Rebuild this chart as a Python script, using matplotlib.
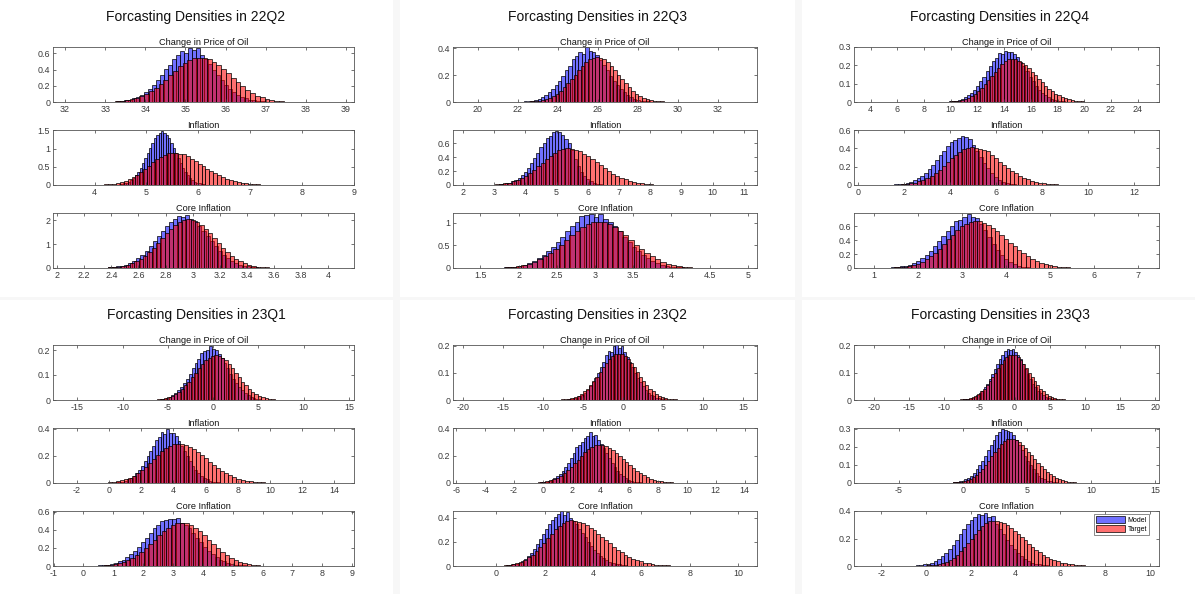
import numpy as np
import matplotlib.pyplot as plt
from matplotlib.patches import Patch, Rectangle

plt.rcParams['font.family'] = ['Liberation Sans', 'DejaVu Sans']

quarters = ['22Q2', '22Q3', '22Q4', '23Q1', '23Q2', '23Q3']
variables = ['Change in Price of Oil', 'Inflation', 'Core Inflation']

# histograms as (left edge of first bin, bin width, pdf heights)
oil_22q2_model = (33.27, 0.1, [0.007, 0.012, 0.019, 0.029, 0.044, 0.063, 0.09, 0.12, 0.166, 0.212, 0.275, 0.33, 0.405, 0.46, 0.535, 0.575, 0.63, 0.61, 0.665, 0.64, 0.67, 0.575, 0.53, 0.47, 0.4, 0.335, 0.27, 0.215, 0.165, 0.123, 0.089, 0.063, 0.044, 0.029, 0.019, 0.012, 0.007])
oil_22q2_target = (33.13, 0.12, [0.006, 0.01, 0.016, 0.024, 0.036, 0.053, 0.074, 0.102, 0.137, 0.179, 0.226, 0.278, 0.334, 0.389, 0.441, 0.486, 0.52, 0.542, 0.55, 0.548, 0.53, 0.5, 0.46, 0.41, 0.355, 0.3, 0.245, 0.195, 0.15, 0.112, 0.08, 0.056, 0.038, 0.025, 0.016, 0.01, 0.006])
infl_22q2_model = (4.468, 0.045, [0.016, 0.026, 0.042, 0.064, 0.096, 0.139, 0.196, 0.27, 0.361, 0.471, 0.596, 0.734, 0.88, 1.025, 1.15, 1.29, 1.36, 1.42, 1.48, 1.44, 1.37, 1.28, 1.16, 1.025, 0.88, 0.734, 0.596, 0.471, 0.361, 0.27, 0.196, 0.139, 0.096, 0.064, 0.042, 0.026, 0.016])
infl_22q2_target = (4.113, 0.075, [0.01, 0.016, 0.026, 0.039, 0.058, 0.084, 0.119, 0.164, 0.219, 0.286, 0.362, 0.445, 0.534, 0.622, 0.705, 0.777, 0.832, 0.868, 0.88, 0.873, 0.852, 0.86, 0.79, 0.716, 0.655, 0.588, 0.52, 0.452, 0.387, 0.326, 0.269, 0.219, 0.175, 0.138, 0.107, 0.082, 0.062, 0.045, 0.033, 0.024, 0.017, 0.011])
core_22q2_model = (2.375, 0.03, [0.024, 0.04, 0.064, 0.097, 0.145, 0.211, 0.297, 0.409, 0.548, 0.715, 0.904, 1.113, 1.335, 1.555, 1.762, 1.943, 2.06, 2.2, 2.15, 2.24, 2.05, 1.99, 1.762, 1.555, 1.335, 1.113, 0.904, 0.715, 0.548, 0.409, 0.297, 0.211, 0.145, 0.097, 0.064, 0.04, 0.024])
core_22q2_target = (2.378, 0.032, [0.023, 0.037, 0.059, 0.09, 0.135, 0.197, 0.277, 0.381, 0.51, 0.666, 0.843, 1.037, 1.244, 1.449, 1.642, 1.81, 1.939, 2.021, 2.05, 2.021, 1.939, 1.81, 1.642, 1.449, 1.244, 1.037, 0.843, 0.666, 0.51, 0.381, 0.277, 0.197, 0.135, 0.09, 0.059, 0.037, 0.023])

oil_22q3_model = (22.305, 0.17, [0.004, 0.007, 0.011, 0.017, 0.026, 0.037, 0.053, 0.073, 0.097, 0.127, 0.16, 0.197, 0.237, 0.27, 0.318, 0.34, 0.375, 0.36, 0.41, 0.38, 0.37, 0.35, 0.312, 0.276, 0.237, 0.197, 0.16, 0.127, 0.097, 0.073, 0.053, 0.037, 0.026, 0.017, 0.011, 0.007, 0.004])
oil_22q3_target = (22.62, 0.18, [0.004, 0.006, 0.01, 0.015, 0.022, 0.032, 0.045, 0.062, 0.083, 0.109, 0.138, 0.17, 0.203, 0.237, 0.268, 0.296, 0.317, 0.33, 0.335, 0.33, 0.32, 0.3, 0.268, 0.237, 0.203, 0.17, 0.138, 0.109, 0.083, 0.062, 0.045, 0.032, 0.022, 0.015, 0.01, 0.006, 0.004])
infl_22q3_model = (3.15, 0.1, [0.008, 0.014, 0.022, 0.034, 0.051, 0.074, 0.104, 0.143, 0.192, 0.25, 0.316, 0.39, 0.467, 0.544, 0.6, 0.68, 0.71, 0.76, 0.78, 0.77, 0.72, 0.66, 0.6, 0.5, 0.38, 0.27, 0.19, 0.13, 0.088, 0.055, 0.034, 0.02, 0.011, 0.006])
infl_22q3_target = (2.89, 0.133, [0.006, 0.01, 0.015, 0.023, 0.035, 0.051, 0.072, 0.099, 0.132, 0.172, 0.218, 0.268, 0.322, 0.375, 0.425, 0.468, 0.501, 0.523, 0.53, 0.525, 0.51, 0.486, 0.454, 0.417, 0.375, 0.33, 0.286, 0.243, 0.202, 0.165, 0.132, 0.104, 0.08, 0.06, 0.045, 0.032, 0.023, 0.016, 0.011, 0.007, 0.005])
core_22q3_model = (1.803, 0.062, [0.013, 0.021, 0.033, 0.051, 0.076, 0.11, 0.155, 0.214, 0.286, 0.374, 0.473, 0.582, 0.698, 0.813, 0.921, 1.015, 1.16, 1.17, 1.19, 1.13, 1.19, 1.09, 1.015, 0.921, 0.813, 0.698, 0.582, 0.473, 0.374, 0.286, 0.214, 0.155, 0.11, 0.076, 0.051, 0.033, 0.021, 0.013])
core_22q3_target = (1.755, 0.07, [0.011, 0.019, 0.03, 0.045, 0.068, 0.099, 0.139, 0.192, 0.256, 0.335, 0.423, 0.521, 0.625, 0.728, 0.825, 0.909, 0.974, 1.016, 1.03, 1.016, 0.974, 0.909, 0.825, 0.728, 0.625, 0.521, 0.423, 0.335, 0.256, 0.192, 0.139, 0.099, 0.068, 0.045, 0.03, 0.019, 0.011])

oil_22q4_model = (9.845, 0.23, [0.003, 0.005, 0.008, 0.012, 0.018, 0.026, 0.037, 0.051, 0.068, 0.089, 0.113, 0.139, 0.167, 0.194, 0.225, 0.24, 0.265, 0.262, 0.28, 0.27, 0.275, 0.26, 0.243, 0.22, 0.194, 0.167, 0.139, 0.113, 0.089, 0.068, 0.051, 0.037, 0.026, 0.018, 0.012, 0.008, 0.005, 0.003])
oil_22q4_target = (9.975, 0.25, [0.003, 0.004, 0.007, 0.01, 0.016, 0.023, 0.032, 0.044, 0.059, 0.076, 0.097, 0.119, 0.143, 0.166, 0.188, 0.208, 0.222, 0.232, 0.235, 0.233, 0.226, 0.215, 0.201, 0.185, 0.166, 0.146, 0.127, 0.108, 0.09, 0.073, 0.059, 0.046, 0.036, 0.027, 0.02, 0.014, 0.01, 0.007, 0.005, 0.003, 0.002])
infl_22q4_model = (1.59, 0.16, [0.006, 0.01, 0.015, 0.023, 0.035, 0.051, 0.072, 0.099, 0.132, 0.172, 0.218, 0.268, 0.322, 0.375, 0.425, 0.468, 0.49, 0.51, 0.535, 0.52, 0.5, 0.436, 0.375, 0.308, 0.243, 0.183, 0.132, 0.091, 0.06, 0.038, 0.023, 0.014, 0.007, 0.004])
infl_22q4_target = (1.713, 0.175, [0.005, 0.007, 0.012, 0.018, 0.027, 0.039, 0.055, 0.076, 0.102, 0.133, 0.169, 0.207, 0.249, 0.29, 0.328, 0.362, 0.388, 0.404, 0.41, 0.406, 0.394, 0.38, 0.37, 0.322, 0.29, 0.255, 0.221, 0.188, 0.156, 0.128, 0.102, 0.08, 0.062, 0.047, 0.034, 0.025, 0.018, 0.013, 0.009, 0.006, 0.004])
core_22q4_model = (1.393, 0.095, [0.008, 0.014, 0.022, 0.033, 0.05, 0.073, 0.103, 0.141, 0.189, 0.247, 0.312, 0.385, 0.461, 0.537, 0.6, 0.68, 0.7, 0.74, 0.785, 0.73, 0.72, 0.64, 0.55, 0.45, 0.348, 0.262, 0.189, 0.131, 0.087, 0.055, 0.033, 0.02, 0.011, 0.006])
core_22q4_target = (1.45, 0.1, [0.008, 0.012, 0.02, 0.03, 0.045, 0.065, 0.092, 0.126, 0.169, 0.221, 0.279, 0.344, 0.413, 0.481, 0.545, 0.6, 0.643, 0.67, 0.68, 0.673, 0.654, 0.624, 0.583, 0.534, 0.481, 0.424, 0.367, 0.311, 0.259, 0.211, 0.169, 0.133, 0.103, 0.078, 0.057, 0.041, 0.03, 0.021, 0.014, 0.01, 0.006])

oil_23q1_model = (-6.22, 0.32, [0.002, 0.004, 0.006, 0.009, 0.014, 0.02, 0.028, 0.039, 0.052, 0.068, 0.086, 0.106, 0.127, 0.15, 0.165, 0.19, 0.195, 0.2, 0.215, 0.205, 0.2, 0.185, 0.168, 0.148, 0.127, 0.106, 0.086, 0.068, 0.052, 0.039, 0.028, 0.02, 0.014, 0.009, 0.006, 0.004, 0.002])
oil_23q1_target = (-6.545, 0.37, [0.002, 0.003, 0.005, 0.008, 0.012, 0.017, 0.024, 0.034, 0.045, 0.059, 0.074, 0.091, 0.109, 0.127, 0.144, 0.159, 0.17, 0.177, 0.18, 0.177, 0.17, 0.159, 0.144, 0.127, 0.109, 0.091, 0.074, 0.059, 0.045, 0.034, 0.024, 0.017, 0.012, 0.008, 0.005, 0.003, 0.002])
infl_23q1_model = (0.413, 0.175, [0.004, 0.007, 0.011, 0.017, 0.026, 0.037, 0.053, 0.073, 0.097, 0.127, 0.16, 0.197, 0.237, 0.276, 0.315, 0.34, 0.375, 0.36, 0.4, 0.37, 0.365, 0.344, 0.312, 0.276, 0.237, 0.197, 0.16, 0.127, 0.097, 0.073, 0.053, 0.037, 0.026, 0.017, 0.011, 0.007, 0.004])
infl_23q1_target = (-0.325, 0.25, [0.003, 0.005, 0.008, 0.013, 0.019, 0.028, 0.039, 0.054, 0.072, 0.094, 0.119, 0.147, 0.176, 0.205, 0.232, 0.256, 0.274, 0.286, 0.29, 0.287, 0.279, 0.266, 0.249, 0.228, 0.205, 0.181, 0.156, 0.133, 0.11, 0.09, 0.072, 0.057, 0.044, 0.033, 0.024, 0.018, 0.013, 0.009, 0.006, 0.004, 0.003])
core_23q1_model = (0.495, 0.13, [0.006, 0.009, 0.015, 0.023, 0.034, 0.05, 0.07, 0.097, 0.129, 0.169, 0.214, 0.263, 0.316, 0.368, 0.417, 0.459, 0.5, 0.515, 0.52, 0.525, 0.535, 0.48, 0.459, 0.417, 0.368, 0.316, 0.263, 0.214, 0.169, 0.129, 0.097, 0.07, 0.05, 0.034, 0.023, 0.015, 0.009, 0.006])
core_23q1_target = (0.525, 0.15, [0.005, 0.009, 0.014, 0.021, 0.032, 0.046, 0.065, 0.089, 0.12, 0.156, 0.197, 0.243, 0.291, 0.339, 0.384, 0.424, 0.454, 0.473, 0.48, 0.473, 0.454, 0.424, 0.384, 0.339, 0.291, 0.243, 0.197, 0.156, 0.12, 0.089, 0.065, 0.046, 0.032, 0.021, 0.014, 0.009, 0.005])

oil_23q2_model = (-6.905, 0.33, [0.002, 0.004, 0.006, 0.009, 0.013, 0.019, 0.027, 0.037, 0.05, 0.065, 0.082, 0.101, 0.121, 0.141, 0.165, 0.18, 0.178, 0.2, 0.205, 0.19, 0.2, 0.177, 0.16, 0.141, 0.121, 0.101, 0.082, 0.065, 0.05, 0.037, 0.027, 0.019, 0.013, 0.009, 0.006, 0.004, 0.002])
oil_23q2_target = (-7.765, 0.39, [0.002, 0.003, 0.005, 0.007, 0.011, 0.016, 0.023, 0.032, 0.042, 0.055, 0.07, 0.086, 0.103, 0.12, 0.136, 0.15, 0.161, 0.168, 0.17, 0.168, 0.161, 0.15, 0.136, 0.12, 0.103, 0.086, 0.07, 0.055, 0.042, 0.032, 0.023, 0.016, 0.011, 0.007, 0.005, 0.003, 0.002])
infl_23q2_model = (-0.215, 0.19, [0.004, 0.006, 0.01, 0.016, 0.023, 0.034, 0.048, 0.066, 0.088, 0.115, 0.146, 0.18, 0.215, 0.26, 0.28, 0.3, 0.33, 0.345, 0.37, 0.34, 0.35, 0.313, 0.284, 0.251, 0.215, 0.18, 0.146, 0.115, 0.088, 0.066, 0.048, 0.034, 0.023, 0.016, 0.01, 0.006, 0.004])
infl_23q2_target = (-0.54, 0.24, [0.003, 0.005, 0.008, 0.012, 0.019, 0.027, 0.038, 0.052, 0.07, 0.091, 0.115, 0.142, 0.17, 0.198, 0.224, 0.247, 0.265, 0.276, 0.28, 0.277, 0.269, 0.257, 0.24, 0.22, 0.198, 0.174, 0.151, 0.128, 0.107, 0.087, 0.07, 0.055, 0.042, 0.032, 0.024, 0.017, 0.012, 0.009, 0.006, 0.004, 0.003])
core_23q2_model = (0.388, 0.125, [0.005, 0.008, 0.013, 0.019, 0.029, 0.042, 0.059, 0.082, 0.11, 0.143, 0.181, 0.223, 0.267, 0.311, 0.352, 0.38, 0.41, 0.43, 0.455, 0.42, 0.445, 0.4, 0.377, 0.346, 0.311, 0.274, 0.237, 0.202, 0.168, 0.137, 0.11, 0.086, 0.066, 0.05, 0.037, 0.027, 0.019, 0.014, 0.009, 0.006, 0.004])
core_23q2_target = (0.14, 0.16, [0.004, 0.007, 0.011, 0.017, 0.025, 0.037, 0.051, 0.071, 0.095, 0.124, 0.156, 0.192, 0.231, 0.269, 0.304, 0.336, 0.359, 0.375, 0.38, 0.377, 0.369, 0.356, 0.339, 0.318, 0.295, 0.269, 0.241, 0.214, 0.187, 0.161, 0.137, 0.115, 0.095, 0.077, 0.062, 0.049, 0.038, 0.029, 0.022, 0.017, 0.012, 0.009, 0.006, 0.005])

oil_23q3_model = (-7.26, 0.36, [0.002, 0.003, 0.005, 0.008, 0.012, 0.018, 0.025, 0.034, 0.046, 0.06, 0.076, 0.094, 0.112, 0.131, 0.148, 0.165, 0.178, 0.184, 0.183, 0.185, 0.175, 0.163, 0.148, 0.131, 0.112, 0.094, 0.076, 0.06, 0.046, 0.034, 0.025, 0.018, 0.012, 0.008, 0.005, 0.003, 0.002])
oil_23q3_target = (-7.7, 0.4, [0.002, 0.003, 0.005, 0.007, 0.011, 0.016, 0.022, 0.031, 0.041, 0.054, 0.068, 0.084, 0.1, 0.117, 0.132, 0.146, 0.156, 0.163, 0.165, 0.163, 0.156, 0.146, 0.132, 0.117, 0.1, 0.084, 0.068, 0.054, 0.041, 0.031, 0.022, 0.016, 0.011, 0.007, 0.005, 0.003, 0.002])
infl_23q3_model = (-0.77, 0.22, [0.003, 0.005, 0.009, 0.013, 0.02, 0.029, 0.04, 0.056, 0.075, 0.098, 0.123, 0.152, 0.182, 0.212, 0.24, 0.265, 0.28, 0.3, 0.295, 0.285, 0.28, 0.265, 0.24, 0.212, 0.182, 0.152, 0.123, 0.098, 0.075, 0.056, 0.04, 0.029, 0.02, 0.013, 0.009, 0.005, 0.003])
infl_23q3_target = (-0.74, 0.24, [0.003, 0.004, 0.007, 0.011, 0.016, 0.024, 0.033, 0.046, 0.061, 0.08, 0.101, 0.124, 0.149, 0.173, 0.196, 0.216, 0.232, 0.242, 0.245, 0.243, 0.236, 0.225, 0.21, 0.193, 0.173, 0.153, 0.132, 0.112, 0.093, 0.076, 0.061, 0.048, 0.037, 0.028, 0.021, 0.015, 0.011, 0.008, 0.005, 0.003, 0.002])
core_23q3_model = (-0.46, 0.16, [0.004, 0.007, 0.011, 0.017, 0.025, 0.037, 0.051, 0.071, 0.095, 0.124, 0.156, 0.192, 0.231, 0.269, 0.304, 0.336, 0.36, 0.38, 0.37, 0.385, 0.36, 0.365, 0.304, 0.269, 0.231, 0.192, 0.156, 0.124, 0.095, 0.071, 0.051, 0.037, 0.025, 0.017, 0.011, 0.007, 0.004])
core_23q3_target = (0.04, 0.16, [0.004, 0.006, 0.01, 0.015, 0.022, 0.032, 0.045, 0.061, 0.082, 0.107, 0.136, 0.167, 0.2, 0.233, 0.264, 0.291, 0.312, 0.325, 0.33, 0.328, 0.321, 0.31, 0.295, 0.277, 0.256, 0.233, 0.21, 0.186, 0.162, 0.14, 0.119, 0.1, 0.082, 0.067, 0.054, 0.043, 0.033, 0.025, 0.019, 0.015, 0.011, 0.008, 0.006, 0.004])

panels = {
    '22Q2': [(oil_22q2_model, oil_22q2_target), (infl_22q2_model, infl_22q2_target), (core_22q2_model, core_22q2_target)],
    '22Q3': [(oil_22q3_model, oil_22q3_target), (infl_22q3_model, infl_22q3_target), (core_22q3_model, core_22q3_target)],
    '22Q4': [(oil_22q4_model, oil_22q4_target), (infl_22q4_model, infl_22q4_target), (core_22q4_model, core_22q4_target)],
    '23Q1': [(oil_23q1_model, oil_23q1_target), (infl_23q1_model, infl_23q1_target), (core_23q1_model, core_23q1_target)],
    '23Q2': [(oil_23q2_model, oil_23q2_target), (infl_23q2_model, infl_23q2_target), (core_23q2_model, core_23q2_target)],
    '23Q3': [(oil_23q3_model, oil_23q3_target), (infl_23q3_model, infl_23q3_target), (core_23q3_model, core_23q3_target)],
}

# axis limits: (xmin, xmax, xstep, ymax, ystep) for oil / inflation / core
limits = {
    '22Q2': [(31.7, 39.2, 1, 0.68, 0.2), (3.2, 9.0, 1, 1.51, 0.5), (1.97, 4.19, 0.2, 2.31, 1)],
    '22Q3': [(18.75, 33.95, 2, 0.41, 0.2), (1.68, 11.42, 1, 0.795, 0.2), (1.14, 5.12, 0.5, 1.22, 0.5)],
    '22Q4': [(2.75, 25.6, 2, 0.3, 0.1), (-0.17, 13.09, 2, 0.6, 0.2), (0.55, 7.47, 1, 0.795, 0.2)],
    '23Q1': [(-17.7, 15.55, 5, 0.22, 0.1), (-3.48, 15.23, 2, 0.405, 0.2), (-1.02, 9.06, 1, 0.61, 0.2)],
    '23Q2': [(-21.25, 16.7, 5, 0.2025, 0.1), (-6.23, 14.86, 2, 0.4, 0.2), (-1.79, 10.78, 2, 0.457, 0.2)],
    '23Q3': [(-22.8, 20.5, 5, 0.2, 0.1), (-8.5, 15.3, 5, 0.304, 0.1), (-3.22, 10.4, 2, 0.4, 0.2)],
}

W, H = 1195, 594
MODEL_FC = (0.0, 0.0, 1.0, 0.56)
TARGET_FC = (1.0, 0.0, 0.0, 0.56)
EDGE = (0.0, 0.0, 0.0, 0.9)
AXCOL = '#3a3a3a'


def tick_values(lo, hi, step):
    first = np.ceil(lo / step - 1e-9) * step
    vals = np.arange(first, hi + step * 1e-6, step)
    return np.round(vals, 6) + 0.0


def draw_hist(ax, spec, fc):
    start, width, heights = spec
    heights = np.asarray(heights)
    left = start + width * np.arange(len(heights))
    ax.bar(left, heights, width=width, align='edge', facecolor=fc,
           edgecolor=EDGE, linewidth=0.55)


fig = plt.figure(figsize=(W / 100, H / 100), dpi=100)
fig.patch.set_facecolor('white')

# faint gaps between the six figure windows
for x0 in (393, 795):
    fig.add_artist(Rectangle((x0 / W, 0), 7 / W, 1, transform=fig.transFigure,
                             facecolor='#f7f7f7', edgecolor='none', zorder=0))
fig.add_artist(Rectangle((0, 1 - 300 / H), 1, 3 / H, transform=fig.transFigure,
                         facecolor='#f7f7f7', edgecolor='none', zorder=0))

col_x = [0, 400, 795]
col_axes = [(53, 301), (53, 304), (59, 305)]
title_cx = [196, 598, 1000]
row_y = [0, 298]
ax_tops = [47, 130, 213]
ax_h = 55

for i, q in enumerate(quarters):
    r, c = divmod(i, 3)
    fig.text(title_cx[c] / W, 1 - (row_y[r] + 17) / H, f'Forcasting Densities in {q}',
             ha='center', va='center', fontsize=10, color='#111111')
    left, width = col_axes[c]
    for j, var in enumerate(variables):
        top = row_y[r] + ax_tops[j]
        ax = fig.add_axes([(col_x[c] + left) / W, 1 - (top + ax_h) / H, width / W, ax_h / H])
        model, target = panels[q][j]
        draw_hist(ax, model, MODEL_FC)
        draw_hist(ax, target, TARGET_FC)
        xlo, xhi, xstep, ytop, ystep = limits[q][j]
        ax.set_xlim(xlo, xhi)
        ax.set_ylim(0, ytop)
        xt = tick_values(xlo, xhi, xstep)
        yt = tick_values(0, ytop, ystep)
        ax.set_xticks(xt)
        ax.set_xticklabels([f'{v:g}' for v in xt])
        ax.set_yticks(yt)
        ax.set_yticklabels([f'{v:g}' for v in yt])
        ax.set_title(var, fontsize=6.6, pad=1.5, color='#111111')
        ax.tick_params(direction='in', length=2.5, width=0.5, top=True, right=True,
                       labelsize=6.4, pad=2, colors=AXCOL)
        for s in ax.spines.values():
            s.set_linewidth(0.6)
            s.set_color('#555555')
        if q == '23Q3' and j == 2:
            handles = [Patch(facecolor=MODEL_FC, edgecolor='k', linewidth=0.5, label='Model'),
                       Patch(facecolor=TARGET_FC, edgecolor='k', linewidth=0.5, label='Target')]
            leg = ax.legend(handles=handles, loc='upper right', bbox_to_anchor=(0.968, 0.95),
                            fontsize=5, frameon=True, fancybox=False, handlelength=4.2,
                            handleheight=1.2, borderpad=0.3, labelspacing=0.15,
                            handletextpad=0.4, borderaxespad=0)
            leg.get_frame().set_edgecolor('#555555')
            leg.get_frame().set_linewidth(0.6)

fig.savefig('out.png', dpi=100, facecolor='white')
